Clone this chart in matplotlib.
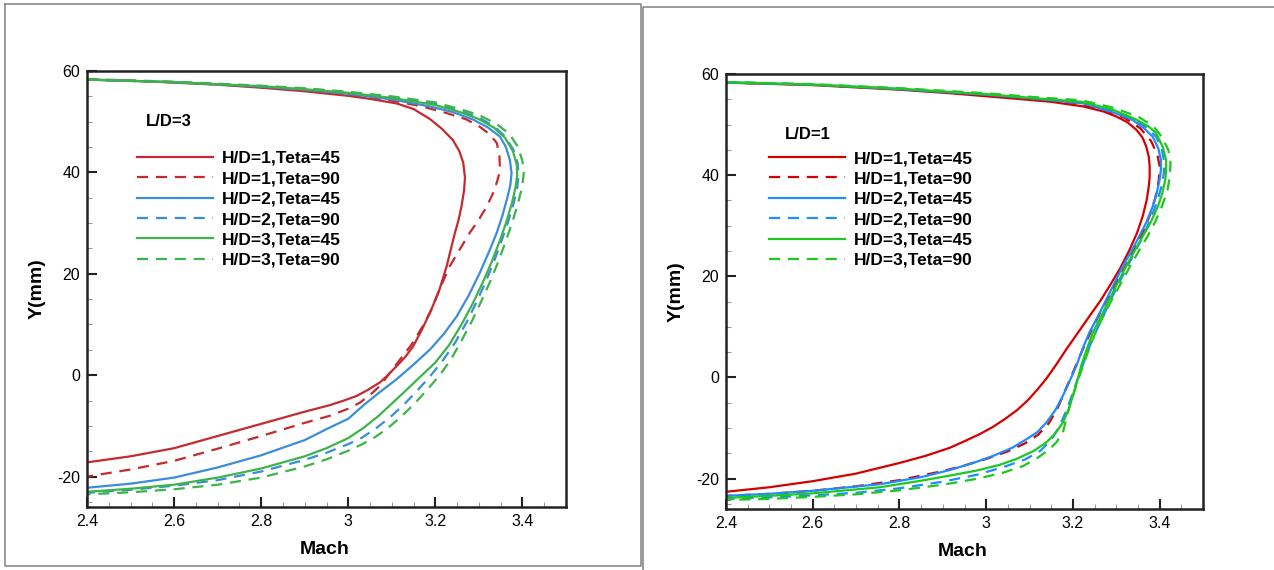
import matplotlib
matplotlib.use("Agg")
import matplotlib.pyplot as plt
from matplotlib.lines import Line2D
from matplotlib.ticker import MultipleLocator

plt.rcParams["font.family"] = ["Liberation Sans", "DejaVu Sans"]
plt.rcParams["axes.unicode_minus"] = False

LABELS = ["H/D=1,Teta=45", "H/D=1,Teta=90", "H/D=2,Teta=45",
          "H/D=2,Teta=90", "H/D=3,Teta=45", "H/D=3,Teta=90"]

# ---- L/D=3 (left panel): Mach and Y(mm) read along each profile, top to bottom
ld3_m_hd1_45 = [2.40, 2.50, 2.60, 2.70, 2.80, 2.90, 3.00, 3.05, 3.111, 3.15, 3.188, 3.215, 3.240,
                3.255, 3.264, 3.268, 3.266, 3.260, 3.253, 3.245, 3.236, 3.226, 3.208, 3.188,
                3.168, 3.149, 3.130, 3.111, 3.092, 3.073, 3.045, 3.019, 2.990, 2.958, 2.90,
                2.80, 2.70, 2.60, 2.50, 2.40]
ld3_y_hd1_45 = [58.3, 58.1, 57.7, 57.3, 56.7, 56.0, 55.1, 54.5, 53.6, 52.5, 50.5, 48.6, 46.4,
                44.2, 41.9, 39.0, 36.5, 33.3, 30.5, 28.1, 25.0, 21.5, 16.5, 12.4,
                8.8, 5.7, 3.5, 1.8, 0.1, -1.4, -2.9, -4.1, -5.0, -5.9, -7.2,
                -9.6, -12.0, -14.4, -16.0, -17.2]
ld3_m_hd1_90 = [2.40, 2.60, 2.80, 2.90, 3.00, 3.111, 3.17, 3.226, 3.27, 3.302, 3.325, 3.341,
                3.347, 3.348, 3.346, 3.341, 3.332, 3.318, 3.300, 3.279, 3.256, 3.233, 3.210,
                3.188, 3.170, 3.145, 3.119, 3.095, 3.073, 3.050, 3.027, 3.000, 2.958, 2.90,
                2.80, 2.70, 2.60, 2.50, 2.40]
ld3_y_hd1_90 = [58.3, 57.8, 56.9, 56.3, 55.5, 54.0, 53.0, 51.7, 50.5, 49.0, 47.5, 45.8,
                43.5, 41.2, 39.5, 38.0, 35.8, 33.3, 30.7, 28.1, 24.8, 21.5, 17.0,
                12.4, 9.5, 6.0, 3.1, 0.4, -2.1, -3.9, -5.4, -6.6, -8.0, -9.4,
                -12.0, -14.5, -16.9, -18.6, -20.0]
ld3_m_hd2_45 = [2.40, 2.60, 2.80, 2.90, 3.00, 3.10, 3.188, 3.24, 3.287, 3.32, 3.348, 3.362,
                3.371, 3.375, 3.372, 3.364, 3.354, 3.341, 3.323, 3.302, 3.277, 3.249, 3.220,
                3.188, 3.150, 3.111, 3.070, 3.034, 3.000, 2.958, 2.90, 2.80, 2.70, 2.60,
                2.50, 2.40]
ld3_y_hd2_45 = [58.3, 57.8, 56.9, 56.3, 55.5, 54.4, 53.0, 51.9, 50.4, 48.9, 47.1, 45.0,
                42.5, 39.9, 37.4, 34.6, 31.5, 28.1, 24.3, 20.2, 15.8, 11.6, 8.2,
                5.1, 2.1, -0.8, -3.5, -6.0, -8.6, -10.3, -12.8, -15.8, -18.2, -20.2,
                -21.4, -22.2]
ld3_m_hd2_90 = [2.40, 2.60, 2.80, 2.90, 3.00, 3.10, 3.20, 3.26, 3.30, 3.335, 3.36, 3.379,
                3.389, 3.391, 3.388, 3.380, 3.368, 3.352, 3.335, 3.316, 3.295, 3.272, 3.246,
                3.218, 3.190, 3.160, 3.130, 3.100, 3.065, 3.030, 3.000, 2.95, 2.90, 2.80,
                2.70, 2.60, 2.50, 2.40]
ld3_y_hd2_90 = [58.3, 57.8, 57.0, 56.5, 55.8, 54.8, 53.5, 52.0, 50.8, 49.1, 47.1, 44.5,
                41.8, 39.5, 37.0, 34.0, 30.5, 26.5, 22.5, 18.5, 14.5, 10.5, 6.5,
                3.0, 0.0, -2.9, -5.6, -8.0, -10.4, -12.4, -13.6, -15.3, -16.7, -19.0,
                -20.7, -21.8, -22.6, -23.2]
ld3_m_hd3_45 = [2.40, 2.60, 2.80, 2.90, 3.00, 3.10, 3.20, 3.26, 3.30, 3.335, 3.36, 3.378,
                3.387, 3.388, 3.384, 3.376, 3.364, 3.348, 3.330, 3.310, 3.285, 3.260, 3.232,
                3.200, 3.163, 3.130, 3.100, 3.070, 3.035, 3.000, 2.95, 2.90, 2.80, 2.70,
                2.60, 2.50, 2.40]
ld3_y_hd3_45 = [58.3, 57.8, 57.0, 56.4, 55.7, 54.7, 53.3, 51.8, 50.5, 48.8, 46.8, 44.2,
                41.5, 39.5, 37.0, 34.0, 30.5, 26.5, 22.5, 18.5, 14.0, 10.0, 6.0,
                2.5, -0.5, -3.2, -5.6, -8.0, -10.4, -12.4, -14.4, -16.0, -18.4, -20.2,
                -21.6, -22.4, -23.0]
ld3_m_hd3_90 = [2.40, 2.60, 2.80, 2.90, 3.00, 3.10, 3.20, 3.26, 3.30, 3.34, 3.37, 3.39,
                3.400, 3.403, 3.399, 3.390, 3.378, 3.362, 3.345, 3.326, 3.305, 3.283, 3.258,
                3.235, 3.210, 3.180, 3.150, 3.120, 3.090, 3.060, 3.030, 3.000, 2.95, 2.90,
                2.80, 2.70, 2.60, 2.50, 2.40]
ld3_y_hd3_90 = [58.4, 57.9, 57.1, 56.6, 55.9, 55.0, 53.8, 52.4, 51.3, 49.6, 47.6, 45.0,
                42.2, 39.8, 37.0, 34.0, 30.5, 26.5, 22.5, 18.5, 14.5, 10.5, 6.5,
                3.0, 0.0, -3.0, -5.8, -8.3, -10.5, -12.3, -13.7, -14.9, -16.6, -18.0,
                -20.2, -21.6, -22.5, -23.1, -23.5]

# ---- L/D=1 (right panel)
ld1_m_hd1_45 = [2.40, 2.60, 2.80, 2.916, 3.00, 3.07, 3.15, 3.223, 3.27, 3.30, 3.325, 3.346,
                3.36, 3.369, 3.375, 3.377, 3.377, 3.375, 3.370, 3.361, 3.348, 3.331, 3.309,
                3.284, 3.262, 3.238, 3.212, 3.185, 3.162, 3.139, 3.118, 3.096, 3.072, 3.045,
                3.015, 2.985, 2.950, 2.916, 2.86, 2.80, 2.70, 2.60, 2.50, 2.40]
ld1_y_hd1_45 = [58.3, 57.8, 56.9, 56.2, 55.6, 55.1, 54.5, 53.6, 52.6, 51.6, 50.5, 49.0,
                47.5, 45.7, 43.6, 41.7, 39.7, 37.8, 35.0, 31.9, 28.6, 25.3, 21.6,
                18.0, 15.0, 12.1, 8.9, 5.6, 2.6, -0.2, -2.4, -4.5, -6.4, -8.1,
                -9.8, -11.2, -12.6, -13.9, -15.5, -16.9, -19.0, -20.5, -21.7, -22.6]
ld1_m_hd1_90 = [2.40, 2.60, 2.80, 3.00, 3.10, 3.20, 3.27, 3.32, 3.355, 3.38, 3.395, 3.400,
                3.398, 3.390, 3.376, 3.360, 3.340, 3.318, 3.295, 3.270, 3.245, 3.225, 3.210,
                3.195, 3.180, 3.165, 3.145, 3.120, 3.090, 3.050, 3.000, 2.95, 2.90, 2.80,
                2.70, 2.60, 2.50, 2.40]
ld1_y_hd1_90 = [58.3, 57.9, 57.0, 55.9, 55.2, 54.3, 53.0, 51.3, 49.3, 46.8, 44.0, 41.7,
                39.0, 35.5, 31.8, 28.5, 25.0, 21.5, 18.0, 14.0, 9.8, 6.0, 3.0,
                0.0, -3.0, -6.0, -9.0, -11.3, -13.0, -14.6, -16.1, -17.4, -18.5, -20.3,
                -21.5, -22.4, -23.0, -23.4]
ld1_m_hd2_45 = [2.40, 2.60, 2.80, 3.00, 3.10, 3.223, 3.29, 3.338, 3.365, 3.384, 3.397, 3.403,
                3.403, 3.400, 3.393, 3.384, 3.370, 3.353, 3.335, 3.315, 3.296, 3.277, 3.258,
                3.238, 3.222, 3.208, 3.192, 3.177, 3.160, 3.139, 3.118, 3.093, 3.060, 3.016,
                2.970, 2.916, 2.85, 2.755, 2.60, 2.50, 2.40]
ld1_y_hd2_45 = [58.3, 57.9, 57.0, 55.9, 55.2, 54.2, 52.5, 50.9, 49.2, 47.6, 45.3, 43.0,
                41.0, 39.1, 36.4, 33.8, 30.8, 27.9, 25.0, 22.0, 18.7, 15.4, 12.1,
                8.9, 5.6, 2.3, -0.8, -3.6, -6.4, -8.9, -10.8, -12.2, -13.9, -15.5,
                -16.9, -18.3, -19.7, -21.1, -22.4, -23.0, -23.4]
ld1_m_hd2_90 = [2.40, 2.60, 2.80, 3.00, 3.10, 3.22, 3.29, 3.34, 3.37, 3.392, 3.405, 3.410,
                3.410, 3.405, 3.395, 3.380, 3.362, 3.343, 3.323, 3.302, 3.280, 3.258, 3.240,
                3.225, 3.210, 3.198, 3.185, 3.170, 3.150, 3.125, 3.090, 3.040, 2.98, 2.90,
                2.80, 2.70, 2.60, 2.50, 2.40]
ld1_y_hd2_90 = [58.4, 57.9, 57.1, 56.0, 55.3, 54.4, 52.8, 51.2, 49.4, 47.6, 45.2, 42.8,
                40.5, 38.0, 35.0, 31.5, 28.0, 24.8, 21.5, 18.0, 14.0, 10.0, 6.5,
                3.0, -0.5, -3.5, -6.5, -9.5, -12.3, -14.5, -16.2, -17.7, -19.2, -20.6,
                -21.9, -22.8, -23.3, -23.7, -24.0]
ld1_m_hd3_45 = [2.40, 2.60, 2.80, 3.00, 3.10, 3.22, 3.29, 3.346, 3.375, 3.392, 3.407, 3.415,
                3.415, 3.413, 3.406, 3.396, 3.380, 3.361, 3.342, 3.323, 3.303, 3.284, 3.265,
                3.246, 3.232, 3.219, 3.210, 3.200, 3.190, 3.177, 3.160, 3.139, 3.110, 3.070,
                3.030, 2.978, 2.916, 2.85, 2.755, 2.60, 2.50, 2.40]
ld1_y_hd3_45 = [58.4, 57.9, 57.1, 56.0, 55.3, 54.5, 53.0, 51.0, 49.6, 48.3, 45.6, 43.0,
                41.0, 39.1, 36.4, 33.8, 30.8, 27.9, 25.0, 22.0, 18.7, 15.4, 12.1,
                8.9, 5.6, 2.3, -0.7, -3.6, -6.3, -8.9, -11.0, -12.8, -14.5, -16.1,
                -17.3, -18.4, -19.4, -20.4, -21.7, -22.9, -23.4, -23.8]
ld1_m_hd3_90 = [2.40, 2.60, 2.80, 3.00, 3.10, 3.22, 3.29, 3.35, 3.385, 3.405, 3.420, 3.425,
                3.424, 3.418, 3.406, 3.390, 3.372, 3.352, 3.332, 3.311, 3.290, 3.270, 3.252,
                3.237, 3.222, 3.208, 3.195, 3.185, 3.177, 3.162, 3.146, 3.120, 3.085, 3.040,
                2.98, 2.90, 2.80, 2.70, 2.60, 2.50, 2.40]
ld1_y_hd3_90 = [58.4, 58.0, 57.2, 56.2, 55.5, 54.8, 53.4, 51.6, 49.7, 47.6, 45.0, 42.5,
                40.0, 37.0, 34.0, 30.8, 27.9, 25.0, 22.0, 18.7, 15.4, 12.1, 8.9,
                5.6, 2.0, -1.5, -5.0, -8.0, -10.9, -12.8, -14.2, -15.8, -17.5, -18.8,
                -20.0, -21.2, -22.3, -23.1, -23.6, -24.0, -24.2]

LEFT = [(ld3_m_hd1_45, ld3_y_hd1_45), (ld3_m_hd1_90, ld3_y_hd1_90),
        (ld3_m_hd2_45, ld3_y_hd2_45), (ld3_m_hd2_90, ld3_y_hd2_90),
        (ld3_m_hd3_45, ld3_y_hd3_45), (ld3_m_hd3_90, ld3_y_hd3_90)]
RIGHT = [(ld1_m_hd1_45, ld1_y_hd1_45), (ld1_m_hd1_90, ld1_y_hd1_90),
         (ld1_m_hd2_45, ld1_y_hd2_45), (ld1_m_hd2_90, ld1_y_hd2_90),
         (ld1_m_hd3_45, ld1_y_hd3_45), (ld1_m_hd3_90, ld1_y_hd3_90)]

LEFT_COLORS = ["#c52a2f", "#c52a2f", "#3a8ddb", "#3a8ddb", "#3cb44a", "#3cb44a"]
RIGHT_COLORS = ["#d50000", "#d50000", "#1e8cff", "#1e8cff", "#1ec81e", "#1ec81e"]

W, H = 1274, 570


def draw_panel(fig, box, curves, colors, tag, tag_pos, leg_anchor):
    x0, y0, x1, y1 = box  # pixel box, y measured from top
    ax = fig.add_axes([x0 / W, 1 - y1 / H, (x1 - x0) / W, (y1 - y0) / H])
    for i, ((m, y), c) in enumerate(zip(curves, colors)):
        ls = "-" if i % 2 == 0 else (0, (5, 3.5))
        ax.plot(m, y, color=c, lw=1.6, ls=ls, label=LABELS[i], solid_joinstyle="round")
    ax.set_xlim(2.4, 3.5)
    ax.set_ylim(-26, 60)
    ax.xaxis.set_minor_locator(MultipleLocator(0.05))
    ax.yaxis.set_major_locator(MultipleLocator(20))
    ax.yaxis.set_minor_locator(MultipleLocator(5))
    ax.set_xticks([2.4, 2.6, 2.8, 3.0, 3.2, 3.4])
    ax.set_xticklabels(["2.4", "2.6", "2.8", "3", "3.2", "3.4"])
    ax.tick_params(which="both", direction="in", top=False, right=False,
                   labelsize=11.5, color="#222222")
    ax.tick_params(which="major", length=7, width=1.5, pad=5)
    ax.tick_params(which="minor", length=3.5, width=0.8, color="#999999")
    for s in ax.spines.values():
        s.set_linewidth(1.8)
        s.set_color("#222222")
    ax.set_xlabel("Mach", fontsize=14, fontweight="bold")
    ax.set_ylabel("Y(mm)", fontsize=14, fontweight="bold")
    ax.xaxis.set_label_coords(0.497, -0.078)
    ax.yaxis.set_label_coords(-0.086, 0.5)
    ax.text(tag_pos[0], tag_pos[1], tag, transform=ax.transAxes, fontsize=12,
            fontweight="bold", va="center", ha="left")
    ax.legend(loc="upper left", bbox_to_anchor=leg_anchor, frameon=False,
              borderpad=0, borderaxespad=0, handlelength=4.4, handletextpad=0.52,
              labelspacing=0.30, prop={"weight": "bold", "size": 12.5})
    return ax


fig = plt.figure(figsize=(W / 100, H / 100), dpi=100)

draw_panel(fig, (87, 71, 566, 507), LEFT, LEFT_COLORS, "L/D=3", (0.123, 0.884), (0.104, 0.817))
draw_panel(fig, (726, 74, 1203, 509), RIGHT, RIGHT_COLORS, "L/D=1", (0.124, 0.862), (0.090, 0.823))

# screenshot frames around each panel
frame = dict(color="#8a8a8a", lw=1.2, transform=fig.transFigure)
fig.add_artist(Line2D([5 / W, 641 / W, 641 / W, 5 / W, 5 / W],
                      [1 - 4 / H, 1 - 4 / H, 1 - 566 / H, 1 - 566 / H, 1 - 4 / H], **frame))
fig.add_artist(Line2D([643 / W, 643 / W, 1.0], [0, 1 - 7 / H, 1 - 7 / H], **frame))

fig.savefig("out.png", dpi=100)
